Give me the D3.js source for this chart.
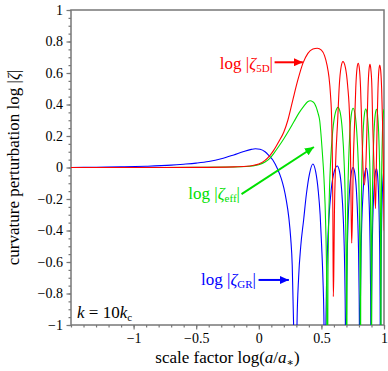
<!DOCTYPE html>
<html><head><meta charset="utf-8">
<script src="https://cdn.jsdelivr.net/npm/d3@7"></script>
<style>
body{margin:0;background:#fff}
text{font-family:"Liberation Serif","DejaVu Serif",serif}
</style>
</head><body>
<svg id="c" width="388" height="371"></svg>
<script>
// ---- data ----
const zetaGR = [
[-1.5,0],[-1.3,0.002],[-1.1,0.004],[-0.9,0.008],[-0.7,0.015],[-0.6,0.021],[-0.5,0.028],[-0.4,0.038],
[-0.3,0.055],[-0.2,0.08],[-0.12,0.102],[-0.06,0.115],[-0.027,0.119],[0.01,0.116],[0.05,0.1],[0.08,0.077],
[0.112,0.048],[0.15,-0.01],[0.179,-0.069],[0.2,-0.13],[0.219,-0.206],[0.24,-0.32],[0.255,-0.45],[0.267,-0.62],
[0.278,-1.0],[0.285,-1.3],[0.294,-1.8],
[0.305,-1.0],[0.318,-0.7],[0.335,-0.5],[0.358,-0.333],[0.38,-0.17],[0.405,-0.04],[0.432,0.022],[0.455,-0.03],
[0.475,-0.15],[0.49,-0.3],[0.502,-0.5],[0.512,-0.7],[0.52,-0.95],[0.53,-1.8],
[0.5348,-1.09],[0.5397,-0.80],[0.5494,-0.50],[0.5591,-0.333],[0.5785,-0.14],[0.6028,-0.024],[0.627,0.01],
[0.6443,-0.024],[0.6615,-0.14],[0.6753,-0.333],[0.6822,-0.50],[0.6891,-0.80],[0.6925,-1.09],[0.696,-1.8],
[0.6989,-1.1],[0.7017,-0.81],[0.7074,-0.51],[0.7131,-0.343],[0.7245,-0.15],[0.7388,-0.034],[0.753,0.0],
[0.7665,-0.034],[0.78,-0.15],[0.7908,-0.343],[0.7962,-0.51],[0.8016,-0.81],[0.8043,-1.1],[0.807,-1.8],
[0.8096,-1.105],[0.8122,-0.815],[0.8174,-0.515],[0.8226,-0.348],[0.833,-0.155],[0.846,-0.039],[0.859,-0.005],
[0.8685,-0.039],[0.878,-0.155],[0.8856,-0.348],[0.8894,-0.515],[0.8932,-0.815],[0.8951,-1.105],[0.897,-1.8],
[0.8989,-1.11],[0.9013,-0.82],[0.9056,-0.52],[0.9099,-0.35],[0.9185,-0.16],[0.9293,-0.042],[0.94,-0.008],
[0.948,-0.042],[0.956,-0.16],[0.9624,-0.35],[0.9656,-0.52],[0.9688,-0.82],[0.9704,-1.11],[0.972,-1.8],
[0.9735,-1.11],[0.975,-0.82],[0.978,-0.52],[0.981,-0.35],[0.987,-0.16],[0.9955,-0.04],[1.003,-0.01]
];
const zetaEff = [
[-1.5,0],[-1,0],[-0.5,0.001],[-0.2,0.003],[-0.1,0.006],[-0.05,0.01],[0,0.018],[0.05,0.035],[0.088,0.058],
[0.12,0.09],[0.16,0.135],[0.2,0.183],[0.24,0.235],[0.28,0.29],[0.32,0.345],[0.36,0.39],[0.39,0.417],
[0.411,0.424],[0.43,0.418],[0.446,0.405],[0.4736,0.344],[0.486,0.30],[0.507,0.10],[0.5206,-0.07],
[0.5343,-0.37],[0.5412,-0.67],[0.548,-1.8],
[0.5522,-0.718],[0.5565,-0.428],[0.565,-0.128],[0.5735,0.039],[0.5905,0.232],[0.6118,0.348],[0.633,0.382],
[0.6503,0.348],[0.6675,0.232],[0.6813,0.039],[0.6882,-0.128],[0.6951,-0.428],[0.6986,-0.718],[0.702,-1.8],
[0.7046,-0.724],[0.7071,-0.434],[0.7122,-0.134],[0.7173,0.033],[0.7275,0.226],[0.7403,0.342],[0.753,0.376],
[0.7678,0.342],[0.7825,0.226],[0.7943,0.033],[0.8002,-0.134],[0.8061,-0.434],[0.8091,-0.724],[0.812,-1.8],
[0.8141,-0.729],[0.8162,-0.439],[0.8204,-0.139],[0.8246,0.028],[0.833,0.221],[0.8435,0.337],[0.854,0.371],
[0.8655,0.337],[0.877,0.221],[0.8862,0.028],[0.8908,-0.139],[0.8954,-0.439],[0.8977,-0.729],[0.900,-1.8],
[0.902,-0.73],[0.904,-0.44],[0.908,-0.14],[0.912,0.027],[0.92,0.22],[0.93,0.336],[0.94,0.37],
[0.9488,0.336],[0.9575,0.22],[0.9645,0.027],[0.968,-0.14],[0.9715,-0.44],[0.9733,-0.73],[0.975,-1.8],
[0.9762,-0.73],[0.9775,-0.44],[0.98,-0.14],[0.9825,0.027],[0.9875,0.22],[0.9938,0.336],[1.0,0.37],[1.006,0.34]
];
const zeta5D = [
[-1.5,0],[-1,0],[-0.5,0.001],[-0.2,0.004],[-0.1,0.008],[-0.05,0.013],[0,0.022],[0.05,0.045],[0.088,0.075],
[0.12,0.11],[0.16,0.165],[0.2,0.225],[0.232,0.30],[0.272,0.43],[0.312,0.556],[0.352,0.661],[0.392,0.725],
[0.432,0.752],[0.467,0.757],[0.5,0.745],[0.525,0.71],[0.545,0.65],[0.56,0.577],[0.572,0.47],[0.582,0.30],
[0.5885,0.0],[0.5917,-0.3],[0.595,-0.82],
[0.5985,-0.7],[0.6038,-0.3],[0.6125,0.0],[0.630,0.30],[0.643,0.522],[0.6573,0.638],[0.672,0.672],
[0.6909,0.638],[0.7093,0.522],[0.726,0.30],[0.734,0.0],[0.738,-0.3],[0.742,-0.48],
[0.748,-0.3],[0.754,0.0],[0.766,0.30],[0.7747,0.51],[0.7842,0.627],[0.794,0.661],[0.8035,0.627],
[0.8126,0.51],[0.821,0.30],[0.832,0.0],[0.843,-0.11],
[0.8543,0.0],[0.8656,0.30],[0.8725,0.505],[0.8802,0.621],[0.888,0.655],[0.8953,0.621],[0.9035,0.505],
[0.909,0.30],[0.9205,0.0],[0.932,-0.26],
[0.9388,0.0],[0.9456,0.30],[0.9519,0.50],[0.9589,0.615],[0.966,0.65],[0.9737,0.615],[0.9812,0.50],
[0.988,0.30],[0.995,0.0],[1.002,-0.4]
];
const xTickValues = [-1, -0.5, 0, 0.5, 1];
const xTickLabels = ["\u22121", "\u22120.5", "0", "0.5", "1"];
const yTickValues = [-1, -0.8, -0.6, -0.4, -0.2, 0, 0.2, 0.4, 0.6, 0.8, 1];
const yTickLabels = ["\u22121", "\u22120.8", "\u22120.6", "\u22120.4", "\u22120.2", "0", "0.2", "0.4", "0.6", "0.8", "1"];
const xMinor = d3.range(-15, 11).map(i => i / 10);
const yMinor = d3.range(-20, 21).map(i => i / 20);

// ---- layout ----
const svg = d3.select("#c");
const L = 71, R = 384, T = 10, B = 325;
const x = d3.scaleLinear().domain([-1.5, 1]).range([L, R]);
const y = d3.scaleLinear().domain([-1, 1]).range([B, T]);
const axisCol = "#777";

svg.append("defs").append("clipPath").attr("id", "clip")
  .append("rect").attr("x", L).attr("y", T).attr("width", R - L).attr("height", B - T);

// minor ticks
const gxm = svg.append("g").attr("transform", `translate(0,${B})`)
  .call(d3.axisBottom(x).tickValues(xMinor).tickFormat("").tickSizeInner(2.5).tickSizeOuter(0));
const gym = svg.append("g").attr("transform", `translate(${L},0)`)
  .call(d3.axisLeft(y).tickValues(yMinor).tickFormat("").tickSizeInner(2.5).tickSizeOuter(0));
// major ticks
const gx = svg.append("g").attr("transform", `translate(0,${B})`)
  .call(d3.axisBottom(x).tickValues(xTickValues).tickFormat((d, i) => xTickLabels[i]).tickSizeInner(4.5).tickSizeOuter(0).tickPadding(4));
const gy = svg.append("g").attr("transform", `translate(${L},0)`)
  .call(d3.axisLeft(y).tickValues(yTickValues).tickFormat((d, i) => yTickLabels[i]).tickSizeInner(4.5).tickSizeOuter(0).tickPadding(3.5));
[gxm, gym, gx, gy].forEach(g => {
  g.select(".domain").remove();
  g.selectAll("line").attr("stroke", axisCol).attr("stroke-width", 1.2);
  g.attr("font-family", null).attr("font-size", 14);
  g.selectAll("text").attr("fill", "#000").style("font-family", '"Liberation Serif", serif');
});

// frame
svg.append("rect").attr("x", L).attr("y", T).attr("width", R - L).attr("height", B - T)
  .attr("fill", "none").attr("stroke", axisCol).attr("stroke-width", 1.5);

// curves
const line = d3.line().x(d => x(d[0])).y(d => y(d[1])).curve(d3.curveMonotoneX);
const series = [
  { data: zetaGR, color: "#0000ff" },
  { data: zetaEff, color: "#00e000" },
  { data: zeta5D, color: "#ff0000" }
];
const gc = svg.append("g").attr("clip-path", "url(#clip)");
series.forEach(s => {
  gc.append("path").attr("d", line(s.data)).attr("fill", "none")
    .attr("stroke", s.color).attr("stroke-width", 1.1).attr("stroke-linejoin", "round");
});

// arrows & labels
const defs = svg.select("defs");
function marker(id, col) {
  defs.append("marker").attr("id", id).attr("markerUnits", "userSpaceOnUse")
    .attr("markerWidth", 9).attr("markerHeight", 8).attr("refX", 9).attr("refY", 4)
    .attr("orient", "auto").append("path").attr("d", "M0,0L9,4L0,8Z").attr("fill", col);
}
marker("mr", "#ff0000"); marker("mg", "#00e000"); marker("mb", "#0000ff");
const arrows = [
  { x1: 0.126, y1: 0.668, x2: 0.352, y2: 0.668, m: "mr", c: "#ff0000" },
  { x1: -0.138, y1: -0.169, x2: 0.44, y2: 0.13, m: "mg", c: "#00e000" },
  { x1: -0.002, y1: -0.714, x2: 0.24, y2: -0.714, m: "mb", c: "#0000ff" }
];
arrows.forEach(a => {
  svg.append("line").attr("x1", x(a.x1)).attr("y1", y(a.y1)).attr("x2", x(a.x2)).attr("y2", y(a.y2))
    .attr("stroke", a.c).attr("stroke-width", 2).attr("marker-end", `url(#${a.m})`);
});

function label(tx, ty, sub, col) {
  const t = svg.append("text").attr("x", tx).attr("y", ty).attr("text-anchor", "end")
    .attr("fill", col).attr("font-size", 17);
  t.append("tspan").text("log |");
  t.append("tspan").attr("font-style", "italic").text("\u03B6");
  t.append("tspan").attr("font-size", 11).attr("dy", 3).text(sub);
  t.append("tspan").attr("dy", -3).text("|");
}
label(273, 69, "5D", "#ff0000");
label(240, 199, "eff", "#00e000");
label(256, 285, "GR", "#0000ff");

// k label
const kt = svg.append("text").attr("x", 77).attr("y", 318).attr("font-size", 17).attr("fill", "#000");
kt.append("tspan").attr("font-style", "italic").text("k");
kt.append("tspan").text(" = 10");
kt.append("tspan").attr("font-style", "italic").text("k");
kt.append("tspan").attr("font-size", 11).attr("dy", 3).text("c");

// axis titles
const xt = svg.append("text").attr("x", (L + R) / 2).attr("y", 363).attr("text-anchor", "middle").attr("font-size", 17);
xt.append("tspan").text("scale factor log(");
xt.append("tspan").attr("font-style", "italic").text("a");
xt.append("tspan").text("/");
xt.append("tspan").attr("font-style", "italic").text("a");
xt.append("tspan").attr("font-size", 11).attr("dy", 3).text("\u2217");
xt.append("tspan").attr("dy", -3).text(")");

const yt = svg.append("text").attr("transform", `translate(19,${(T + B) / 2}) rotate(-90)`)
  .attr("text-anchor", "middle").attr("font-size", 17);
yt.append("tspan").text("curvature perturbation log |");
yt.append("tspan").attr("font-style", "italic").text("\u03B6");
yt.append("tspan").text("|");
</script>
</body></html>
